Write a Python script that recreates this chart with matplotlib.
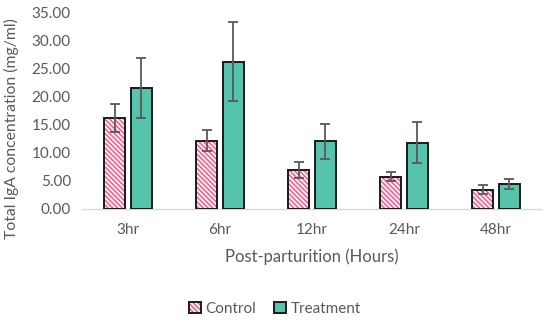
import matplotlib
matplotlib.use("Agg")
import matplotlib.pyplot as plt
import numpy as np
from matplotlib.patches import Patch
from matplotlib.legend_handler import HandlerTuple

# Data
hours = ["3hr", "6hr", "12hr", "24hr", "48hr"]
control = [16.2, 12.15, 6.95, 5.75, 3.4]
control_err = [2.45, 1.8, 1.45, 0.75, 0.78]
treatment = [21.5, 26.2, 12.0, 11.8, 4.5]
treatment_err = [5.4, 7.1, 3.15, 3.7, 0.88]

pink = "#FF5C8D"
teal = "#56C3AC"
grey_text = "#595959"
stripes = "\\" * 7

plt.rcParams["font.family"] = ["Lato", "DejaVu Sans"]
plt.rcParams["hatch.linewidth"] = 1.2

fig = plt.figure(figsize=(5.5, 3.22), dpi=100)
ax = fig.add_axes([82 / 550, 1 - 209 / 322, 460 / 550, 197 / 322])

x = np.arange(len(hours))
w = 0.23
gap = 0.055
xc = x - (w + gap) / 2
xt = x + (w + gap) / 2

# control bars: white with pink stripes, then black outline on top
ax.bar(xc, control, w, color="white", edgecolor=pink, hatch=stripes, linewidth=0, zorder=2)
ax.bar(xc, control, w, fill=False, edgecolor="#1a1a1a", linewidth=1.4, zorder=3)
ax.errorbar(xc, control, yerr=control_err, fmt="none", ecolor=grey_text,
            elinewidth=1.3, capsize=3.5, capthick=1.3, zorder=4)

ax.bar(xt, treatment, w, color=teal, edgecolor="#1a1a1a", linewidth=1.4, zorder=3)
ax.errorbar(xt, treatment, yerr=treatment_err, fmt="none", ecolor=grey_text,
            elinewidth=1.3, capsize=3.5, capthick=1.3, zorder=4)

ax.set_xlim(-0.5, len(hours) - 0.5)
ax.set_ylim(0, 35)
ax.set_yticks(np.arange(0, 35.1, 5))
ax.set_yticklabels([f"{v:.2f}" for v in np.arange(0, 35.1, 5)])
ax.set_xticks(x)
ax.set_xticklabels(hours)

for s in ["top", "right", "left"]:
    ax.spines[s].set_visible(False)
ax.spines["bottom"].set_color("#D9D9D9")
ax.spines["bottom"].set_linewidth(1.0)
ax.tick_params(axis="both", length=0, colors=grey_text, labelsize=11)
ax.tick_params(axis="x", pad=10)
ax.tick_params(axis="y", pad=8)

ax.set_xlabel("Post-parturition (Hours)", fontsize=12, color=grey_text, labelpad=8)
ax.set_ylabel("Total IgA concentration (mg/ml)", fontsize=11.3, color=grey_text)
ax.yaxis.set_label_coords(-0.137, 0.41)

# legend
h_ctrl = (Patch(facecolor="white", edgecolor=pink, hatch=stripes, linewidth=0),
          Patch(fill=False, edgecolor="#1a1a1a", linewidth=1.4))
h_trt = Patch(facecolor=teal, edgecolor="#1a1a1a", linewidth=1.4)
fig.legend([h_ctrl, h_trt], ["Control", "Treatment"],
           handler_map={tuple: HandlerTuple(ndivide=1, pad=0)},
           loc="center", bbox_to_anchor=(0.5, 1 - 309 / 322), ncol=2, frameon=False,
           fontsize=11, handlelength=0.75, handleheight=0.75, handletextpad=0.3,
           columnspacing=1.2, labelcolor=grey_text)

fig.savefig("out.png", dpi=100)
